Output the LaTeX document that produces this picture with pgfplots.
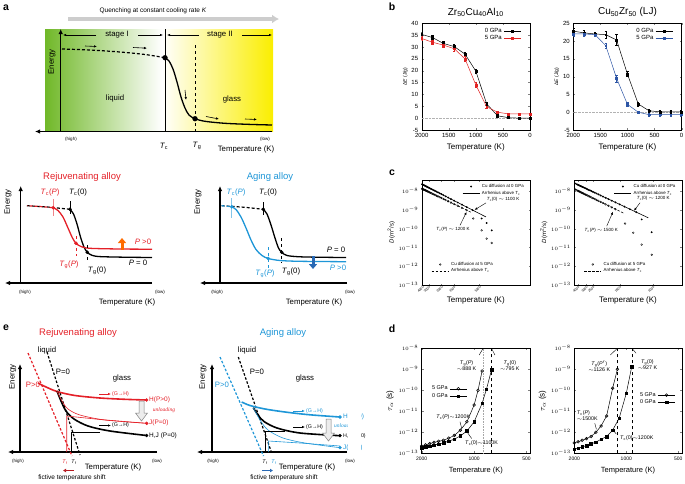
\documentclass[border=0pt]{standalone}
\usepackage{pgfplots}
\pgfplotsset{compat=1.18}
\usepackage{fontspec}
\setmainfont{Liberation Sans}
\newfontfamily\serif{Liberation Serif}
\usetikzlibrary{arrows.meta}

\definecolor{rj}{RGB}{228,32,40}
\definecolor{ag}{RGB}{30,150,215}
\definecolor{lgreen}{RGB}{112,184,40}
\definecolor{lyel}{RGB}{250,238,0}
\definecolor{bblue}{RGB}{45,85,165}
\definecolor{bred}{RGB}{225,35,35}
\definecolor{qgray}{RGB}{205,205,205}

\tikzset{
  t9/.style={font=\fontsize{9.5}{10}\selectfont, inner sep=0pt},
  t7/.style={font=\fontsize{7.8}{8}\selectfont, inner sep=0pt},
  t6/.style={font=\fontsize{6.5}{7}\selectfont, inner sep=0pt},
  t5/.style={font=\fontsize{5.3}{6}\selectfont, inner sep=0pt},
  t4/.style={font=\fontsize{4.5}{5}\selectfont, inner sep=0pt},
  ax/.style={line width=1.3pt, -{Latex[length=5pt,width=4.5pt]}},
  sm/.style={line width=0.6pt, -{Latex[length=3pt,width=2.5pt]}},
  pl/.style={font=\bfseries\fontsize{10.5}{10}\selectfont, inner sep=0pt},
}
\newcommand{\Tsub}[1]{\textit{T}\textsubscript{#1}}

\pgfplotsset{
  panelb/.style={scale only axis, width=108.3pt, height=106.7pt, anchor=north west,
    x dir=reverse, xmin=0, xmax=2000, xtick={0,500,1000,1500,2000},
    /pgf/number format/assume math mode=true, /pgf/number format/1000 sep={},
    tick label style={font=\fontsize{6}{6}\selectfont},
    major tick length=2pt,
    xlabel={Temperature (K)}, xlabel style={font=\fontsize{8}{9}\selectfont, yshift=1pt},
    ylabel={Δ\textit{E} (J/g)}, ylabel style={font=\fontsize{5}{6}\selectfont, yshift=-3pt},
    title style={font=\fontsize{10}{11}\selectfont, yshift=-3pt},
    legend style={at={(0.95,0.99)}, anchor=north east, draw=none, fill=none,
      font=\fontsize{6}{6}\selectfont, row sep=-2.5pt},
    legend plot pos=right, legend cell align=right,
    error bars/y dir=both, error bars/y explicit,
    error bars/error bar style={line width=0.45pt},
    error bars/error mark options={rotate=90, mark size=1.2pt, line width=0.45pt}},
  panelc/.style={scale only axis, height=105pt, anchor=north west,
    ymin=1e-13, ymax=3.9e-8, yminorticks=false,
    ytick={1e-13,1e-12,1e-11,1e-10,1e-9,1e-8},
    x tick label style={rotate=45, anchor=north east, font=\fontsize{3.3}{3.5}\selectfont, inner sep=0.5pt},
    y tick label style={font=\fontsize{4}{4}\selectfont},
    major tick length=1.5pt,
    xlabel={Temperature (K)}, xlabel style={font=\fontsize{8}{9}\selectfont},
    ylabel={\textit{D}(m\textsuperscript{2}/s)}, ylabel style={font=\fontsize{6}{7}\selectfont, yshift=-3pt},
    legend style={draw=none, fill=none, font=\fontsize{4.4}{5}\selectfont, row sep=-2pt},
    legend cell align=left},
  paneld/.style={scale only axis, width=108.3pt, height=105pt, anchor=north west,
    x dir=reverse, ymin=1e-13, ymax=1e-8, xmin=478, xmax=2000,
    xtick={500,1000,2000}, xticklabels={500,1000,2000}, xminorticks=false, yminorticks=false,
    ytick={1e-13,1e-12,1e-11,1e-10,1e-9,1e-8},
    tick label style={font=\fontsize{5}{6}\selectfont},
    major tick length=2pt,
    xlabel={Temperature (K)}, xlabel style={font=\fontsize{7.5}{8}\selectfont},
    ylabel={$\tau_\alpha$ (s)}, ylabel style={font=\fontsize{8}{9}\selectfont, yshift=-2pt},
    legend style={draw=none, fill=none, font=\fontsize{5.5}{6}\selectfont, row sep=-2pt},
    legend plot pos=right, legend cell align=right},
}

\begin{document}
\begin{tikzpicture}
\path[use as bounding box] (0pt,0pt) rectangle (685pt,-484pt);

% ---------------- schematics (a, e) in pixel-like coordinates
\begin{axis}[at={(0pt,0pt)}, anchor=north west, scale only axis, width=685pt, height=484pt,
  xmin=0, xmax=685, ymin=0, ymax=484, y dir=reverse, hide axis, clip=false]
% panel letters
\node[pl] at (6,8) {a};
\node[pl] at (392,7) {b};
\node[pl] at (392,173) {c};
\node[pl] at (392,329) {d};
\node[pl] at (6,328) {e};

% ---- a (top)
\draw[qgray, line width=3.5pt, -{Latex[length=7pt,width=9pt]}] (68,19) -- (279,19);
\node[t6] at (153,11) {Quenching at constant cooling rate \textit{K}};
\shade[left color=lgreen, right color=white] (45,29) rectangle (162,131);
\shade[left color=white, right color=lyel] (162,29) rectangle (273,131);
\draw[line width=0.6pt] (165,29) -- (165,131);
\draw[dashed, line width=0.5pt] (195,45) -- (195,131);
\draw[ax] (60.7,131.5) -- (60.7,29);
\draw[ax] (272,131.5) -- (35,131.5);
\addplot[black, line width=1.2pt, dash pattern=on 3pt off 2pt, smooth] coordinates
  {(62,49) (90,50) (120,52) (145,54.5) (165,57.7)};
\addplot[black, line width=1.3pt, smooth] coordinates
  {(165,57.7) (169,61) (173,69) (177,82) (181,97) (185,108) (189,115) (195,118.7) (205,121.3) (225,123.3) (250,124.4) (272,125)};
\addplot[only marks, mark=*, mark size=2.4pt, black] coordinates {(165,57.7) (195,118.7)};
\draw[sm] (85,46) -- (97,46.5);
\draw[sm] (133,47.5) -- (147,48.2);
\draw[sm] (185,90) -- (186,100);
\draw[sm] (206,116.5) -- (219,119);
\draw[sm] (245,119) -- (257,119.5);
\draw[line width=0.5pt, -{Latex[length=3pt]}] (96,35) -- (63,35);
\node[t7] at (117,35) {stage I};
\draw[line width=0.5pt, -{Latex[length=3pt]}] (138,35) -- (163,35);
\draw[line width=0.5pt, -{Latex[length=3pt]}] (199,35) -- (167,35);
\node[t7] at (220,35) {stage II};
\draw[line width=0.5pt, -{Latex[length=3pt]}] (242,35) -- (272,35);
\node[t7] at (115,98) {liquid};
\node[t7] at (232,99) {glass};
\node[t7, rotate=90] at (52,62) {Energy};
\node[t4] at (71,139) {(high)};
\node[t4] at (265,139) {(low)};
\node[t7] at (164,146) {\Tsub{c}};
\node[t7] at (197,146) {\Tsub{g}};
\node[t7] at (246,149) {Temperature (K)};

% ---- a (lower left: rejuvenating)
\node[t9, text=rj] at (82,177) {Rejuvenating alloy};
\draw[ax] (20.7,283) -- (20.7,186);
\draw[ax] (152,283) -- (5,283);
\node[t7, rotate=90] at (8,202) {Energy};
\node[t4] at (25,292) {(high)};
\node[t4] at (160,292) {(low)};
\node[t7] at (127,302) {Temperature (K)};
\addplot[black, line width=1.2pt, dash pattern=on 3pt off 2pt] coordinates {(27,205.7) (50,207.2) (70,209.3)};
\addplot[rj, line width=1.2pt, dash pattern=on 3pt off 2pt, dash phase=2.5pt] coordinates {(27,205.7) (40,206.5) (53.3,207.7)};
\addplot[black, line width=1.3pt, smooth] coordinates
  {(70,209.3) (73.5,214) (77,224) (80.5,237) (84,247) (87.3,252.3) (92,255.3) (100,256.6) (125,257.2) (152,257.5)};
\addplot[rj, line width=1.3pt, smooth] coordinates
  {(53.3,207.7) (58,210.5) (63,217) (68,228) (72.5,238) (76,243.3) (81,246.5) (90,248.3) (120,249) (152,249.2)};
\draw[rj!55, line width=1pt] (53.3,199) -- (53.3,216);
\draw[line width=0.5pt] (70,201) -- (70,214);
\draw[rj, dashed, line width=0.5pt] (76,236) -- (76,256);
\draw[dashed, line width=0.5pt] (87.3,245) -- (87.3,263);
\addplot[only marks, mark=*, mark size=1.6pt, rj] coordinates {(53.3,207.7) (76,243.3)};
\addplot[only marks, mark=*, mark size=1.6pt, black] coordinates {(70,209.3) (87.3,252.3)};
\node[t7, text=rj] at (50,192) {\Tsub{c}(\textit{P})};
\node[t7] at (78,192) {\Tsub{c}(0)};
\node[t7, text=rj] at (69,265) {\Tsub{g}(\textit{P})};
\node[t7] at (97,271) {\Tsub{g}(0)};
\node[t7, text=rj] at (143,242) {\textit{P} >0};
\node[t7] at (138,263) {\textit{P} = 0};
\draw[orange!85!red, line width=3pt, -{Triangle[length=5pt,width=8pt]}] (122,250) -- (122,238);

% ---- a (lower right: aging)
\node[t9, text=ag] at (270,177) {Aging alloy};
\draw[ax] (220,283) -- (220,186);
\draw[ax] (347,283) -- (200,283);
\node[t7, rotate=90] at (198,202) {Energy};
\node[t4] at (217,292) {(high)};
\node[t4] at (350,292) {(low)};
\node[t7] at (314,302) {Temperature (K)};
\addplot[black, line width=1.2pt, dash pattern=on 3pt off 2pt] coordinates {(221.7,205.7) (245,207.3) (263.3,209.3)};
\addplot[ag, line width=1.2pt, dash pattern=on 3pt off 2pt] coordinates {(221.7,205.7) (231.7,206.7)};
\addplot[black, line width=1.3pt, smooth] coordinates
  {(263.3,209.3) (267,214) (271,225) (275,238) (278.5,248) (281.7,252.3) (287,255.5) (300,256.8) (325,257.3) (346,257.5)};
\addplot[ag, line width=1.3pt, smooth] coordinates
  {(231.7,206.7) (236,209.5) (241,217) (246,228) (251,240) (256,249.5) (262,255.5) (268.3,258.5) (280,260.5) (300,261.3) (346,261.7)};
\draw[ag!55, line width=1pt] (231.7,198) -- (231.7,218);
\draw[line width=0.5pt] (263.3,202) -- (263.3,215);
\draw[ag, dashed, line width=0.5pt] (268.3,247) -- (268.3,268);
\draw[dashed, line width=0.5pt] (281.7,238) -- (281.7,263);
\addplot[only marks, mark=*, mark size=1.6pt, ag] coordinates {(231.7,206.7) (268.3,258.5)};
\addplot[only marks, mark=*, mark size=1.6pt, black] coordinates {(263.3,209.3) (281.7,252.3)};
\node[t7, text=ag] at (236,192) {\Tsub{c}(\textit{P})};
\node[t7] at (268,192) {\Tsub{c}(0)};
\node[t7, text=ag] at (265,274) {\Tsub{g}(\textit{P})};
\node[t7] at (291,272) {\Tsub{g}(0)};
\node[t7] at (336,250) {\textit{P} = 0};
\node[t7, text=ag] at (338,268) {\textit{P} >0};
\draw[bblue!70!ag, line width=3pt, -{Triangle[length=5pt,width=8pt]}] (313,256) -- (313,269);

% ---- e (left: rejuvenating)
\node[t9, text=rj] at (78,333) {Rejuvenating alloy};
\node[t7] at (47,350) {liquid};
\draw[ax] (20,452) -- (20,364);
\draw[ax] (157,452) -- (8,452);
\node[t7, rotate=90] at (12.7,377) {Energy};
\node[t4] at (18,461) {(high)};
\node[t4] at (157,461) {(low)};
\node[t7] at (113,467) {Temperature (K)};
\node[t5, text=rj] at (65,462) {\Tsub{f}};
\node[t5] at (74,462) {\Tsub{f}};
\draw[rj!80!black, line width=1.6pt, -{Latex[length=3pt,width=4pt]}] (74,470.5) -- (63,470.5);
\node[t6] at (72,478) {fictive temperature shift};
\draw[rj, line width=1.2pt, dash pattern=on 2.5pt off 1.8pt] (28,353) -- (72,456);
\draw[black, line width=1.2pt, dash pattern=on 2.5pt off 1.8pt] (47,352) -- (80,455);
\node[t7, text=rj] at (33,385) {P>0};
\node[t7] at (63,372) {P=0};
\node[t7] at (122,378) {glass};
\addplot[rj, line width=1.6pt, smooth] coordinates
  {(38,383) (45,386.5) (57,391.5) (75,395.5) (100,398) (125,399.3) (146.7,400)};
\addplot[black, line width=1.6pt, smooth] coordinates
  {(57,391) (61,401) (66,411) (74,419) (88,426) (110,431) (146.7,435.5)};
\addplot[rj, line width=0.6pt, smooth] coordinates
  {(57,391) (62,401) (68,409) (80,415) (105,420) (146.7,423.3)};
\addplot[rj, line width=0.6pt] coordinates {(66.7,452) (66.7,416) (100,419.5) (146.7,423.3)};
\addplot[black, line width=0.6pt] coordinates {(71.7,452) (71.7,432) (100,432)};
\addplot[only marks, mark=*, mark size=1.5pt, rj] coordinates {(146.7,400) (146.7,423.3)};
\addplot[only marks, mark=*, mark size=1.5pt, black] coordinates {(146.7,435.5)};
\node[t6, text=rj, anchor=west] at (149,400) {H(P>0)};
\node[t6, text=rj, anchor=west] at (149,423.3) {J(P=0)};
\node[t6, anchor=west] at (149,436) {H,J (P=0)};
\draw[rj, sm] (99,394) -- (111,394);
\node[t5, text=rj, anchor=west] at (112,394) {(G→H)};
\draw[sm] (99,425.5) -- (111,425.5);
\node[t5, anchor=west] at (112,425.5) {(G→H)};
\draw[gray, line width=0.5pt, fill=gray!15] (139,401) -- (144,401) -- (144,413) -- (147.5,413) -- (141.5,421) -- (135.5,413) -- (139,413) -- cycle;
\node[font=\serif\itshape\fontsize{5.5}{6}\selectfont, text=rj, inner sep=0pt] at (164,410) {unloading};

% ---- e (right: aging)
\node[t9, text=ag] at (283,333) {Aging alloy};
\node[t7] at (247,350) {liquid};
\draw[ax] (212,452) -- (212,364);
\draw[ax] (347,452) -- (197,452);
\node[t7, rotate=90] at (203,377) {Energy};
\node[t4] at (213,461) {(high)};
\node[t4] at (350,461) {(low)};
\node[t7] at (307,467) {Temperature (K)};
\node[t5] at (265,462) {\Tsub{f}};
\node[t5, text=ag] at (274,462) {\Tsub{f}};
\draw[bblue!70!ag, line width=1.6pt, -{Latex[length=3pt,width=4pt]}] (262,470.5) -- (273,470.5);
\node[t6] at (284,478) {fictive temperature shift};
\draw[ag, line width=1.2pt, dash pattern=on 2.5pt off 1.8pt] (220,357) -- (263.5,456);
\draw[black, line width=1.2pt, dash pattern=on 2.5pt off 1.8pt] (238.3,357) -- (271.7,453);
\node[t7, text=ag] at (222,385) {P>0};
\node[t7] at (257,372) {P=0};
\node[t7] at (305,378) {glass};
\addplot[ag, line width=1.6pt, smooth] coordinates
  {(241.7,402) (250,405.5) (265,409) (285,412) (310,414.8) (340,417)};
\addplot[black, line width=1.6pt, smooth] coordinates
  {(253.3,407.7) (258,415) (264,421.5) (277,428) (300,433) (340,435.7)};
\addplot[ag, line width=0.6pt, smooth] coordinates
  {(253.3,407.7) (260,420) (268,430) (283,438) (305,443) (340,447.7)};
\addplot[ag, line width=0.6pt] coordinates {(268.3,452) (268.3,441) (300,443) (340,446)};
\addplot[black, line width=0.6pt] coordinates {(265,452) (265,431.7) (285,431.7)};
\addplot[only marks, mark=*, mark size=1.5pt, ag] coordinates {(340,417) (340,447.7)};
\addplot[only marks, mark=*, mark size=1.5pt, black] coordinates {(340,435.7)};
\draw[ag, sm] (293,411) -- (305,411);
\node[t5, text=ag, anchor=west] at (306,411) {(G→H)};
\draw[sm] (293,427) -- (305,427);
\node[t5, anchor=west] at (306,427) {(G→H)};
\draw[gray, line width=0.5pt, fill=gray!15] (326,419) -- (331,419) -- (331,433) -- (334.5,433) -- (328.5,441) -- (322.5,433) -- (326,433) -- cycle;
\node[t6, text=ag, anchor=west] at (343,417) {H(P>0)};
\node[font=\serif\itshape\fontsize{5.5}{6}\selectfont, text=ag, inner sep=0pt, anchor=west] at (334,426) {unloading};
\node[t5, anchor=west] at (343,436) {H,J (P=0)};
\node[t6, text=ag, anchor=west] at (343,447.7) {J(P=0)};
\fill[white] (348,405) rectangle (361,455);
\end{axis}

% ---------------- b
\begin{axis}[panelb, at={(421.7pt,-23.3pt)}, ymin=-5, ymax=40, ytick={-5,0,5,10,15,20,25,30,35,40},
  title={Zr\textsubscript{50}Cu\textsubscript{40}Al\textsubscript{10}}]
\addplot[gray!60, densely dotted, forget plot] coordinates {(0,0) (2000,0)};
\addplot[black, line width=0.5pt, mark=square*, mark size=0.9pt] coordinates {
  (2000,35.3) +- (0,1.0) (1800,34.0) +- (0,0.8) (1600,31.5) +- (0,0.8) (1400,30.2) +- (0,0.9)
  (1200,27.0) +- (0,1.0) (1000,19.8) +- (0,0.7) (800,6.0) +- (0,0.6) (600,1.0) +- (0,0.5)
  (400,0.2) +- (0,0.4) (200,0.0) +- (0,0.4) (0,0.0) +- (0,0.4)};
\addlegendentry{0 GPa}
\addplot[bred, line width=0.5pt, mark=square*, mark size=0.9pt] coordinates {
  (2000,33.6) +- (0,0.8) (1800,32.0) +- (0,0.8) (1600,30.8) +- (0,0.8) (1400,29.3) +- (0,0.9)
  (1200,25.0) +- (0,1.0) (1000,14.0) +- (0,1.0) (800,4.8) +- (0,0.6) (600,2.5) +- (0,0.4)
  (400,1.8) +- (0,0.4) (200,1.8) +- (0,0.4) (0,1.8) +- (0,0.4)};
\addlegendentry{5 GPa}
\end{axis}

\begin{axis}[panelb, at={(573.3pt,-23.3pt)}, ymin=-5, ymax=25, ytick={-5,0,5,10,15,20,25},
  title={Cu\textsubscript{50}Zr\textsubscript{50} (LJ)}]
\addplot[gray!60, densely dotted, forget plot] coordinates {(0,0) (2000,0)};
\addplot[black, line width=0.5pt, mark=square*, mark size=0.9pt] coordinates {
  (2000,22.8) +- (0,0.8) (1800,22.3) +- (0,0.8) (1600,22.0) +- (0,0.6) (1400,21.8) +- (0,1.0)
  (1200,20.3) +- (0,1.5) (1000,10.7) +- (0,0.7) (800,2.3) +- (0,0.5) (600,0.4) +- (0,0.4)
  (400,0.1) +- (0,0.4) (200,0.1) +- (0,0.4) (0,0.1) +- (0,0.4)};
\addlegendentry{0 GPa}
\addplot[bblue, line width=0.5pt, mark=square*, mark size=0.9pt] coordinates {
  (2000,22.0) +- (0,0.6) (1800,22.0) +- (0,0.6) (1600,21.8) +- (0,0.5) (1400,18.7) +- (0,0.6)
  (1200,9.5) +- (0,1.0) (1000,2.2) +- (0,0.5) (800,0.0) +- (0,0.4) (600,-0.7) +- (0,0.4)
  (400,-0.7) +- (0,0.4) (200,-0.7) +- (0,0.4) (0,-0.7) +- (0,0.4)};
\addlegendentry{5 GPa}
\end{axis}

% ---------------- c (x = 1000/T, labelled in K)
\begin{axis}[ymode=log, panelc, width=108.3pt, at={(421.7pt,-180pt)}, xmin=0.24, xmax=1.665,
  xtick={0.25,0.3333,0.5,0.6667,1}, xticklabels={4000,3000,2000,1500,1000},
  legend style={at={(0.99,1.0)}, anchor=north east}]
\addplot[only marks, mark=*, mark size=0.7pt] coordinates {
  (0.2439,2.32e-8) (0.25,2.26e-8) (0.2564,2.19e-8) (0.2632,2.12e-8) (0.2703,2.05e-8)
  (0.2778,1.976e-8) (0.2857,1.903e-8) (0.2941,1.828e-8) (0.3030,1.752e-8) (0.3125,1.674e-8)
  (0.3226,1.596e-8) (0.3333,1.517e-8) (0.3448,1.436e-8) (0.3571,1.354e-8) (0.3704,1.271e-8)
  (0.3846,1.188e-8) (0.4,1.104e-8) (0.4167,1.019e-8) (0.4348,9.35e-9) (0.4545,8.51e-9)
  (0.4762,7.67e-9) (0.5,6.85e-9) (0.5263,6.04e-9) (0.5556,5.26e-9) (0.5882,4.50e-9)
  (0.625,3.78e-9) (0.6667,3.09e-9) (0.7143,2.47e-9) (0.7692,1.90e-9) (0.8333,1.40e-9)
  (0.9091,9.75e-10) (1.029,3.47e-10) (1.095,2.0e-10) (1.161,8.13e-11)};
\addlegendentry{Cu diffusion at 0 GPa}
\addplot[black, line width=0.6pt] coordinates {(0.24,2.37e-8) (1.086,4.20e-10)};
\addlegendentry{Arrhenius above \Tsub{c}}
\draw[-{Latex[length=3pt]}, line width=0.4pt] (1.086,2.36e-9) -- (0.935,1.0e-9);
\node[t4, anchor=west] at (1.095,3.6e-9) {\Tsub{c}(0) $\sim$ 1100 K};
\draw[-{Latex[length=3pt]}, line width=0.4pt] (0.744,1.5e-10) -- (0.83,7.8e-10);
\node[t4] at (0.652,8.9e-11) {\Tsub{c}(\textit{P}) $\sim$ 1200 K};
\end{axis}
\begin{axis}[ymode=log, panelc, width=108.3pt, at={(421.7pt,-180pt)}, xmin=0.24, xmax=1.665, hide axis,
  legend style={at={(0.06,0.07)}, anchor=south west}]
\addplot[only marks, mark=o, mark size=0.9pt, mark options={line width=0.35pt}] coordinates {
  (0.2439,1.338e-8) (0.25,1.302e-8) (0.2564,1.265e-8) (0.2632,1.227e-8) (0.2703,1.189e-8)
  (0.2778,1.150e-8) (0.2857,1.110e-8) (0.2941,1.069e-8) (0.3030,1.027e-8) (0.3125,9.85e-9)
  (0.3226,9.41e-9) (0.3333,8.97e-9) (0.3448,8.52e-9) (0.3571,8.07e-9) (0.3704,7.60e-9)
  (0.3846,7.14e-9) (0.4,6.66e-9) (0.4167,6.18e-9) (0.4348,5.70e-9) (0.4545,5.22e-9)
  (0.4762,4.74e-9) (0.5,4.26e-9) (0.5263,3.79e-9) (0.5556,3.32e-9) (0.5882,2.87e-9)
  (0.625,2.44e-9) (0.6667,2.02e-9) (0.7143,1.64e-9) (0.7692,1.28e-9) (0.8333,9.62e-10)
  (0.919,3.47e-10) (1.029,8.13e-11) (1.095,2.95e-11) (1.161,1.74e-11)};
\addlegendentry{Cu diffusion at 5 GPa}
\addplot[black, line width=0.6pt, dash pattern=on 2.5pt off 1.5pt] coordinates {(0.24,1.36e-8) (0.902,7.08e-10)};
\addlegendentry{Arrhenius above \Tsub{c}}
\end{axis}

\begin{axis}[ymode=log, panelc, width=107.4pt, at={(574.3pt,-180pt)}, xmin=0.213, xmax=1.287,
  xtick={0.25,0.3333,0.4,0.6667,1}, xticklabels={4000,3000,2500,1500,1000},
  legend style={at={(0.99,1.0)}, anchor=north east}]
\addplot[only marks, mark=*, mark size=0.7pt] coordinates {
  (0.2222,2.54e-8) (0.2381,2.32e-8) (0.25,2.16e-8) (0.2564,2.08e-8) (0.2632,2.00e-8)
  (0.2703,1.92e-8) (0.2778,1.84e-8) (0.2857,1.76e-8) (0.2941,1.68e-8) (0.3030,1.59e-8)
  (0.3125,1.51e-8) (0.3226,1.42e-8) (0.3333,1.34e-8) (0.3448,1.25e-8) (0.3571,1.17e-8)
  (0.3704,1.08e-8) (0.3846,9.97e-9) (0.4,9.12e-9) (0.4167,8.28e-9) (0.4348,7.46e-9)
  (0.4545,6.66e-9) (0.4762,5.88e-9) (0.5,5.13e-9) (0.5263,4.41e-9) (0.5556,3.72e-9)
  (0.5882,3.09e-9) (0.625,2.50e-9) (0.6667,1.96e-9) (0.7143,1.49e-9) (0.7692,1.09e-9)
  (0.8333,7.53e-10) (0.887,3.09e-10) (0.987,6.46e-11)};
\addlegendentry{Cu diffusion at 0 GPa}
\addplot[black, line width=0.6pt] coordinates {(0.213,2.68e-8) (0.953,3.78e-10)};
\addlegendentry{Arrhenius above \Tsub{c}}
\draw[-{Latex[length=3pt]}, line width=0.4pt] (0.87,2.4e-9) -- (0.81,9.0e-10);
\node[t4, anchor=west] at (0.837,4.1e-9) {\Tsub{c}(0) $\sim$ 1200 K};
\draw[-{Latex[length=3pt]}, line width=0.4pt] (0.537,1.35e-10) -- (0.6,8.0e-10);
\node[t4] at (0.483,8.1e-11) {\Tsub{c}(\textit{P}) $\sim$ 1500 K};
\end{axis}
\begin{axis}[ymode=log, panelc, width=107.4pt, at={(574.3pt,-180pt)}, xmin=0.213, xmax=1.287, hide axis,
  legend style={at={(0.06,0.07)}, anchor=south west}]
\addplot[only marks, mark=o, mark size=0.9pt, mark options={line width=0.35pt}] coordinates {
  (0.2222,1.21e-8) (0.2381,1.10e-8) (0.25,1.03e-8) (0.2564,9.89e-9) (0.2632,9.50e-9)
  (0.2703,9.10e-9) (0.2778,8.71e-9) (0.2857,8.30e-9) (0.2941,7.89e-9) (0.3030,7.48e-9)
  (0.3125,7.07e-9) (0.3226,6.66e-9) (0.3333,6.24e-9) (0.3448,5.83e-9) (0.3571,5.41e-9)
  (0.3704,5.00e-9) (0.3846,4.59e-9) (0.4,4.19e-9) (0.4167,3.79e-9) (0.4348,3.40e-9)
  (0.4545,3.02e-9) (0.4762,2.65e-9) (0.5,2.30e-9) (0.5263,1.97e-9) (0.5556,1.65e-9)
  (0.5882,1.36e-9) (0.625,1.09e-9)
  (0.72,1.86e-10) (0.803,6.03e-11) (0.887,1.41e-11) (0.987,4.07e-12)};
\addlegendentry{Cu diffusion at 5 GPa}
\addplot[black, line width=0.6pt, dash pattern=on 2.5pt off 1.5pt] coordinates {(0.213,1.28e-8) (0.707,6.67e-10)};
\addlegendentry{Arrhenius above \Tsub{c}}
\end{axis}

% ---------------- d
\begin{axis}[xmode=log, ymode=log, paneld, at={(421.7pt,-348.3pt)},
  legend style={at={(0.45,0.68)}, anchor=north east}]
\addplot[gray!70, densely dotted, line width=0.6pt, forget plot] coordinates {(888,1e-13) (888,1e-8)};
\addplot[black, dashed, line width=0.5pt, forget plot] coordinates {(795,1e-13) (795,1e-8)};
\addplot[black, line width=0.5pt, mark=o, mark size=1.4pt, mark options={fill=white}] coordinates {
  (2000,2.24e-13) (1900,2.51e-13) (1800,2.88e-13) (1700,3.31e-13) (1600,3.72e-13) (1500,4.17e-13)
  (1400,5.25e-13) (1300,7.08e-13) (1200,1.26e-12) (1100,3.16e-12) (1000,2.0e-11) (950,1.0e-10)
  (900,8.32e-10)};
\addlegendentry{5 GPa}
\addplot[black, line width=0.5pt, mark=square*, mark size=1.3pt] coordinates {
  (2000,1.86e-13) (1900,2.0e-13) (1800,2.19e-13) (1700,2.45e-13) (1600,2.75e-13) (1500,3.16e-13)
  (1400,3.80e-13) (1300,4.68e-13) (1200,6.76e-13) (1100,1.15e-12) (1000,3.16e-12) (900,2.40e-11)
  (850,1.12e-10) (795,9.33e-10)};
\addlegendentry{0 GPa}
\node[t5, align=center] at (1105,1.45e-9) {\Tsub{g}(\textit{P})\\$\sim$888 K};
\node[t5, align=center] at (624,1.45e-9) {\Tsub{g}(0)\\$\sim$795 K};
\draw[line width=0.4pt] (935,4.8e-9) -- (888,1e-8);
\draw[line width=0.4pt] (760,4.8e-9) -- (795,1e-8);
\node[t5] at (1318,5.1e-12) {\Tsub{c}(\textit{P})$\sim$1200K};
\draw[line width=0.4pt] (1206,3.2e-12) -- (1180,1.6e-12);
\node[t5] at (906,3.16e-13) {\Tsub{c}(0)$\sim$1100K};
\draw[line width=0.4pt] (1034,5.1e-13) -- (1090,9.5e-13);
\end{axis}

\begin{axis}[xmode=log, ymode=log, paneld, at={(574.3pt,-348.3pt)}, width=107.4pt,
  legend style={at={(0.97,0.62)}, anchor=north east}]
\addplot[black, dashed, line width=0.5pt, forget plot] coordinates {(1126,1e-13) (1126,1e-8)};
\addplot[black, dashed, line width=0.5pt, forget plot] coordinates {(927,1e-13) (927,1e-8)};
\addplot[black, line width=0.5pt, mark=o, mark size=1.4pt, mark options={fill=white}] coordinates {
  (2000,3.16e-13) (1900,3.55e-13) (1800,4.17e-13) (1700,5.01e-13) (1600,6.31e-13) (1500,1.0e-12)
  (1400,2.0e-12) (1300,6.03e-12) (1200,1.26e-10) (1126,1.0e-9)};
\addlegendentry{5 GPa}
\addplot[black, line width=0.5pt, mark=square*, mark size=1.3pt] coordinates {
  (2000,1.58e-13) (1900,1.78e-13) (1800,2.0e-13) (1700,2.34e-13) (1600,2.82e-13) (1500,3.39e-13)
  (1400,4.68e-13) (1300,6.31e-13) (1200,1.26e-12) (1100,4.68e-12) (1000,7.24e-11) (930,1.35e-9)};
\addlegendentry{0 GPa}
\node[t5, align=center] at (1435,1.45e-9) {\Tsub{g}(\textit{P}$'$)\\$\sim$1126 K};
\node[t5, align=center] at (755,1.6e-9) {\Tsub{g}(0)\\$\sim$927 K};
\draw[line width=0.4pt] (1238,4.8e-9) -- (1126,1e-8);
\draw[line width=0.4pt] (878,5.8e-9) -- (927,1e-8);
\node[t5, align=left, anchor=west] at (1937,6.3e-12) {\Tsub{c}(\textit{P})\\$\sim$1500K};
\draw[line width=0.4pt] (1522,2.7e-12) -- (1490,1.4e-12);
\node[t5] at (870,5.5e-13) {\Tsub{c}(0)$\sim$1200K};
\draw[line width=0.4pt] (1143,8.3e-13) -- (1195,1.3e-12);
\end{axis}
\end{tikzpicture}
\end{document}
